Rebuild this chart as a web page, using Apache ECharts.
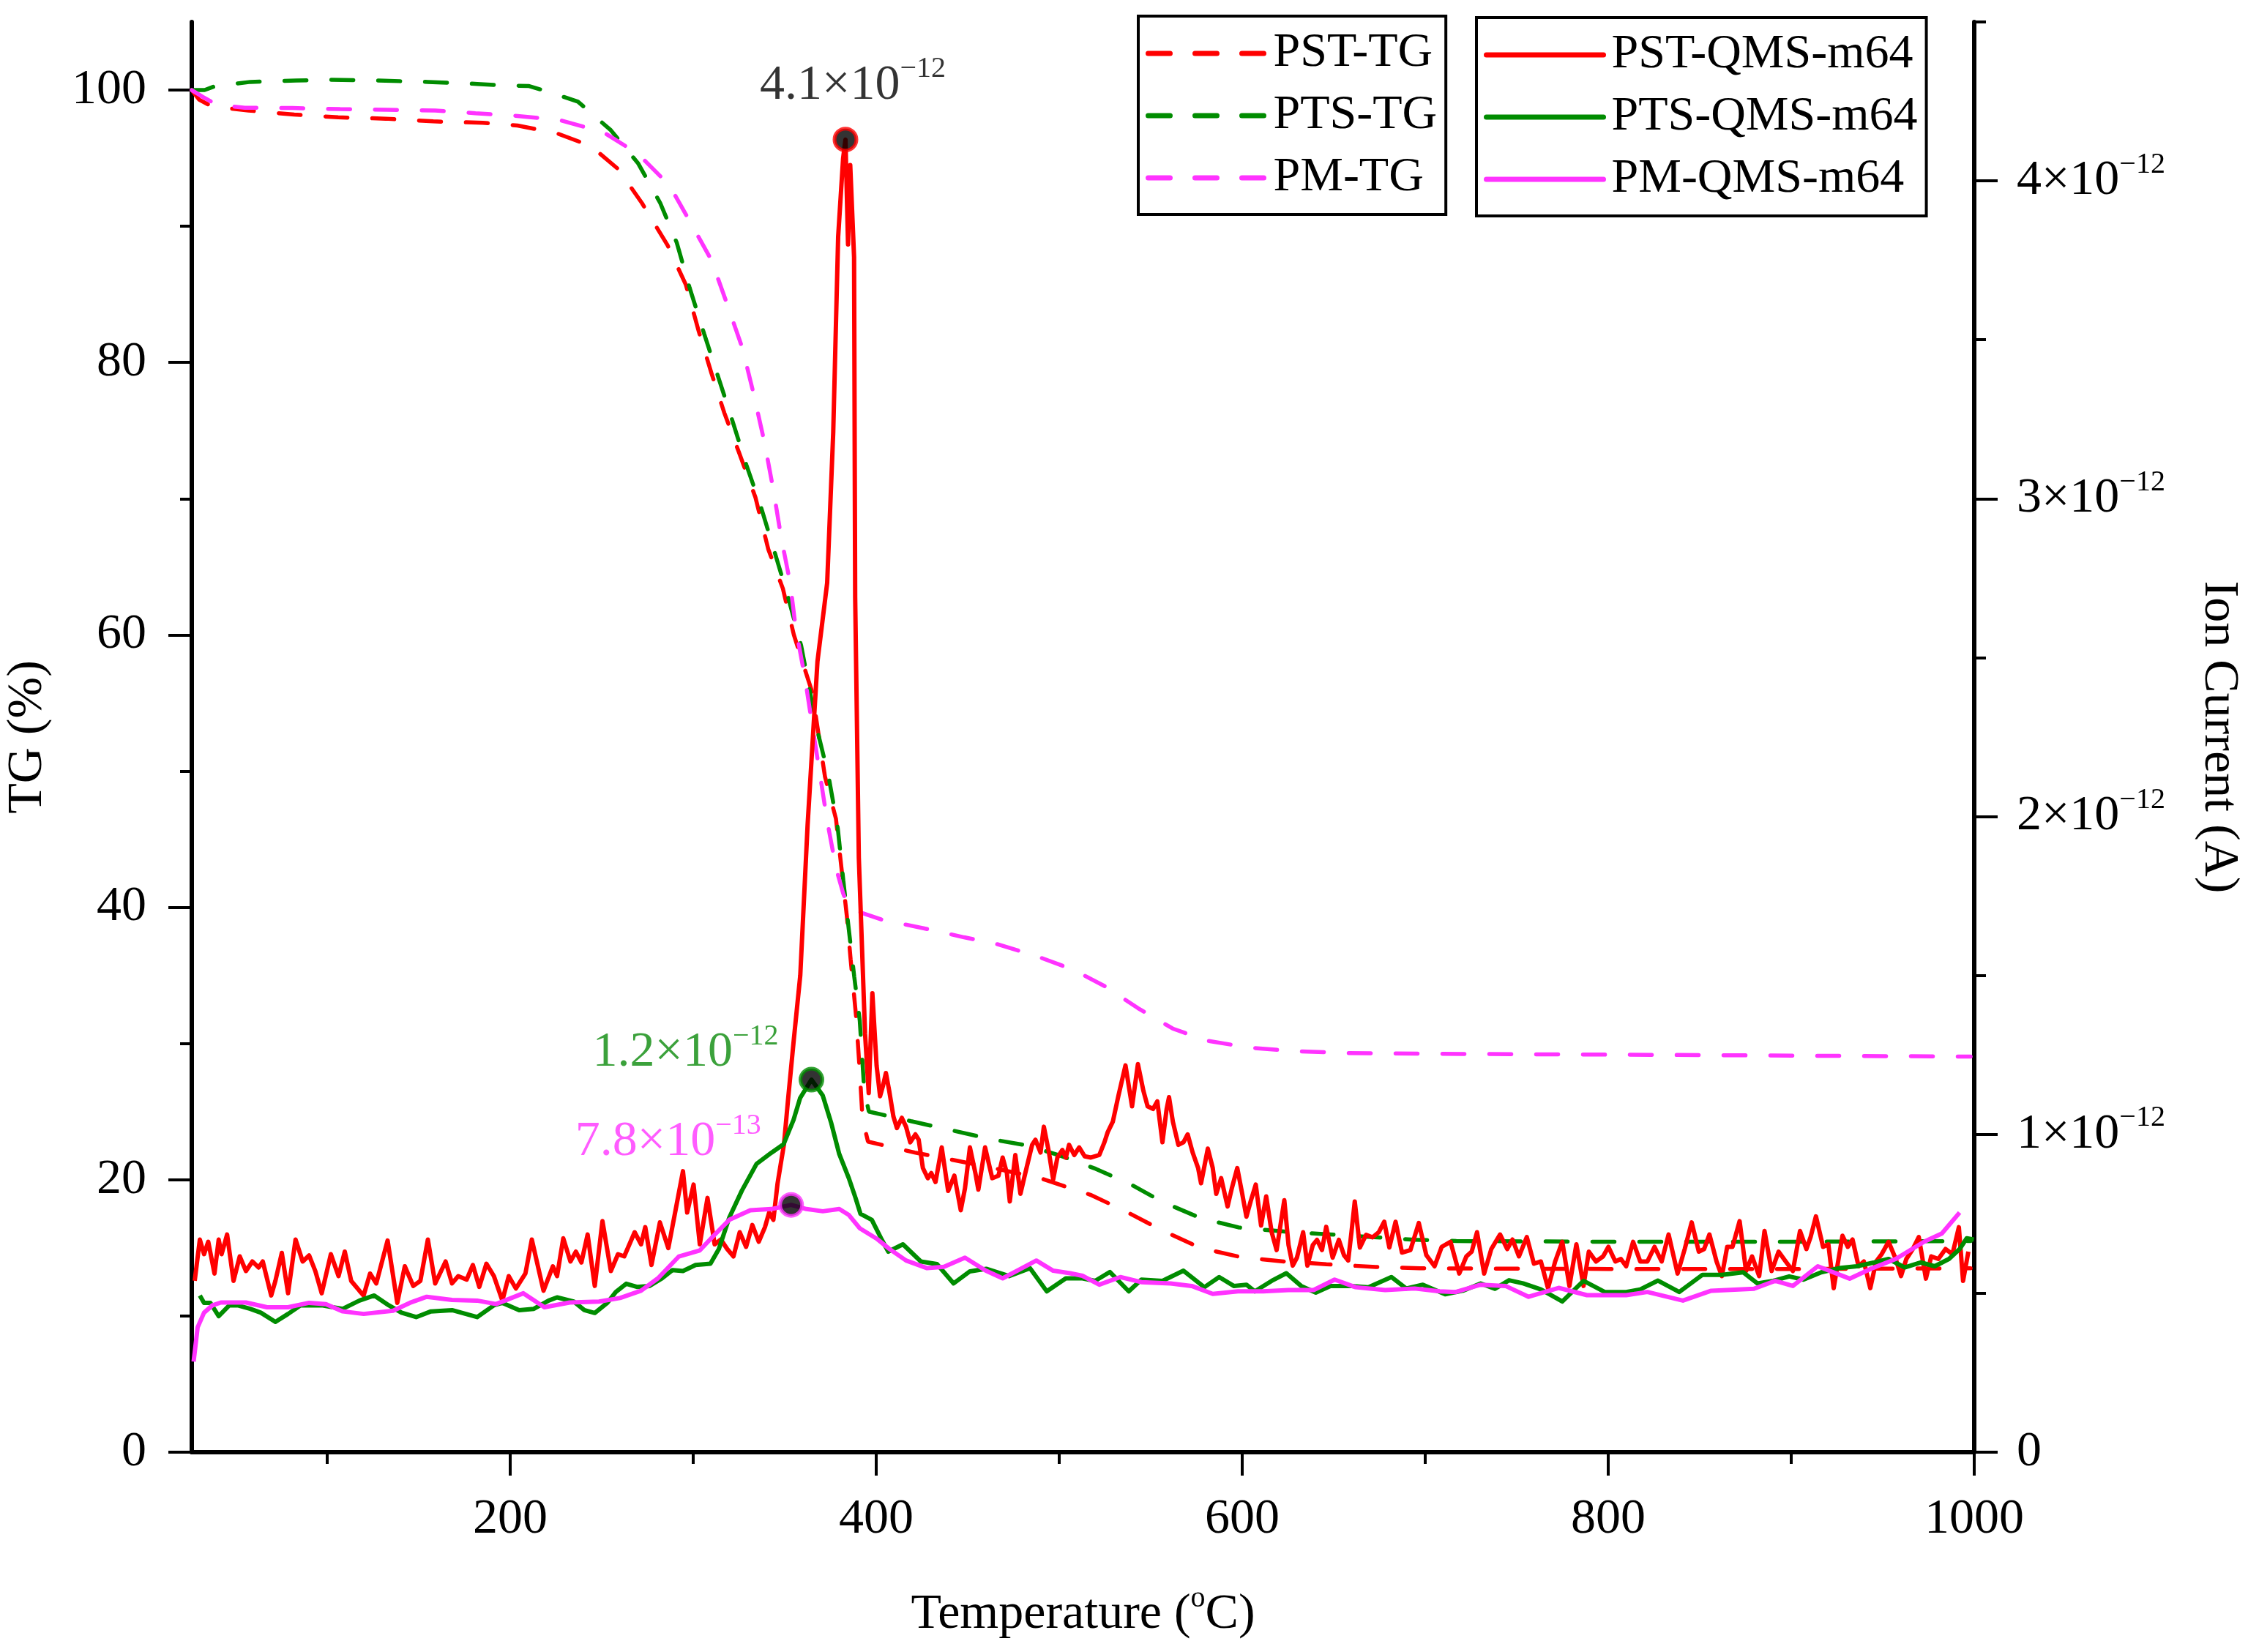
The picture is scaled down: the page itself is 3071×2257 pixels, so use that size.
<!DOCTYPE html>
<html>
<head>
<meta charset="utf-8">
<title>TG / QMS m64</title>
<script src="https://cdn.jsdelivr.net/npm/echarts@6.0.0/dist/echarts.min.js"></script>
<style>
  html, body { margin: 0; padding: 0; background: #fff; }
  #main { width: 3071px; height: 2257px; }
</style>
</head>
<body>
<div id="main"></div>
<script>
// TG curves (%), temperature in degC
const pstTgT = [26, 30, 37, 57, 82, 106, 132, 158, 185, 204, 226, 244, 259, 272, 286, 296, 303, 310, 317, 325, 334, 341, 349, 355, 365, 372, 378, 384, 386, 389, 391, 392.5, 395.5, 421, 444, 466, 490, 517, 536, 556, 577, 600, 623, 646, 673, 697, 800, 900, 998];
const pstTgV = [100, 99.3, 98.8, 98.5, 98.2, 98.0, 97.9, 97.7, 97.6, 97.4, 96.8, 95.9, 94.2, 91.7, 88.6, 85.7, 82.3, 79.2, 76.3, 73.4, 70.1, 66.3, 63.4, 60.0, 55.8, 49.6, 46.5, 39.3, 36.2, 32.0, 28.0, 24.5, 22.8, 22.0, 21.4, 20.8, 20.1, 18.9, 17.7, 16.3, 15.0, 14.3, 14.0, 13.8, 13.6, 13.5, 13.45, 13.45, 13.5];

const ptsTgT = [26, 33, 39, 58, 83, 102, 127, 155, 182, 195, 210, 219, 237, 255, 270, 282, 291, 298, 306, 314, 321, 329, 337, 344, 352, 359, 368, 374, 379, 382, 385, 388, 391, 393.5, 396, 419, 439, 462, 483, 500, 520, 540, 556, 577, 598, 623, 646, 694, 717, 800, 900, 998];
const ptsTgV = [100, 100.0, 100.3, 100.6, 100.7, 100.75, 100.7, 100.6, 100.45, 100.35, 100.3, 99.95, 99.15, 97.05, 94.6, 91.7, 88.8, 85.5, 82.1, 78.8, 75.9, 72.5, 69.4, 66.3, 62.7, 59.2, 52.9, 49.6, 45.8, 42.0, 38.4, 34.9, 31.7, 26.5, 25.0, 24.3, 23.7, 23.0, 22.5, 21.8, 20.8, 19.6, 18.4, 17.2, 16.5, 16.2, 16.0, 15.6, 15.5, 15.45, 15.45, 15.5];

const pmTgT = [26, 32, 40, 55, 81, 107, 133, 159, 181, 204, 227, 251, 270, 287, 298, 310, 319, 327, 333, 339, 344, 348, 353, 356, 361, 365, 369, 373, 378, 382, 385, 392, 403, 428, 448, 466, 488, 508, 525, 543, 562, 581, 604, 628, 658, 700, 777, 850, 920, 986, 998];
const pmTgV = [100, 99.5, 98.9, 98.7, 98.68, 98.6, 98.55, 98.5, 98.3, 98.1, 97.8, 96.9, 95.3, 93.0, 90.4, 87.5, 84.1, 81.0, 77.7, 74.1, 70.5, 67.2, 63.8, 60.5, 56.9, 53.4, 50.0, 46.5, 42.9, 41.0, 40.0, 39.6, 39.1, 38.4, 37.8, 37.3, 36.4, 35.4, 34.2, 32.6, 31.1, 30.2, 29.7, 29.45, 29.3, 29.25, 29.2, 29.15, 29.1, 29.05, 29.05];

// QMS m64 ion current, in units of 1e-12 A
const pstQmsT = [27.6, 30.4, 32.7, 35.0, 38.4, 40.7, 42.3, 45.3, 48.8, 52.2, 55.6, 59.1, 62.5, 64.8, 69.4, 71.7, 75.2, 78.6, 82.7, 86.6, 90.1, 93.5, 97.0, 102.0, 106.2, 109.6, 113.1, 117.6, 119.9, 123.4, 126.8, 133.0, 138.3, 142.4, 147.0, 150.9, 155.0, 159.0, 164.7, 168.2, 171.6, 176.2, 179.6, 183.1, 187.0, 191.1, 195.7, 199.2, 203.1, 208.3, 211.8, 218.2, 223.3, 225.6, 229.0, 232.9, 235.9, 238.9, 242.3, 246.2, 250.4, 255.0, 258.9, 262.3, 268.0, 271.5, 273.8, 277.2, 281.8, 286.4, 291.0, 294.4, 296.7, 300.2, 303.6, 307.8, 311.7, 315.1, 318.6, 322.0, 325.4, 328.9, 332.3, 335.8, 339.2, 341.5, 343.8, 346.1, 349.6,
  351.9, 355.0, 358.5, 362.5, 367.9, 373.2, 376.5, 379.2, 381.9, 383.2, 384.6, 385.8, 387.9, 388.5, 390.5, 393.9, 395.9, 397.9,
  400.2, 402.1, 403.7, 405.3, 407.1, 409.4, 411.3, 414.0, 416.3, 418.6, 421.4, 423.2, 425.5, 428.2, 430.1, 432.4, 435.8, 439.3, 442.7, 446.2, 448.5, 451.2, 454.2, 455.8, 459.5, 463.4, 466.8, 469.1, 471.4, 473.0, 476.0, 478.8, 481.8, 485.2, 487.0, 489.8, 491.6, 494.4, 496.7, 499.0, 501.7, 503.6, 505.4, 508.2, 510.9, 513.9, 517.3, 521.9, 524.7, 526.5, 529.3, 532.3, 536.2, 539.8, 543.0, 546.0, 548.3, 551.3, 553.6, 556.4, 558.7, 560.0, 562.1, 565.1, 567.9, 570.2, 572.9, 575.9, 577.5, 581.2, 583.9, 585.8, 588.5, 592.0, 594.3, 597.3, 600.0, 602.3, 604.6, 607.4, 610.3, 613.1, 616.1, 618.8, 623.0, 625.3, 627.6, 629.9, 633.3, 635.6, 638.6, 640.9, 643.6, 645.9, 649.4, 652.8, 655.6, 657.9, 659.7, 661.5, 664.3, 667.7, 671.2, 674.6, 677.6, 680.4, 683.8, 687.3, 691.9, 696.5, 700.6,
  705.1, 709.0, 713.8, 718.6, 722.5, 725.4, 728.3, 732.2, 736.1, 740.9, 744.8, 747.7, 751.2, 755.5, 759.4, 763.2, 767.1, 771.0, 774.9, 778.8, 782.6, 786.5, 789.4, 793.3, 797.2, 800.1, 803.9, 806.9, 809.8, 813.6, 817.5, 821.4, 825.3, 829.2, 833.0, 837.9, 841.8, 845.6, 849.5, 852.4, 855.3, 859.2, 862.1, 865.0, 867.9, 871.8, 875.3, 878.6, 882.5, 885.4, 889.3, 893.1, 897.0, 900.9, 904.8, 908.3, 910.6, 913.5, 917.4, 920.3, 923.2, 926.1, 928.0, 930.9, 933.5, 936.8, 939.7, 943.2, 946.4, 949.4, 953.2, 957.1, 960.0, 962.9, 966.4, 969.7, 973.6, 976.5, 980.4, 984.3, 988.1, 991.6, 993.9, 996.8];
const pstQmsI = [0.539, 0.669, 0.623, 0.662, 0.562, 0.669, 0.623, 0.685, 0.539, 0.616, 0.570, 0.600, 0.581, 0.600, 0.493, 0.539, 0.627, 0.500, 0.669, 0.600, 0.619, 0.570, 0.500, 0.623, 0.554, 0.631, 0.539, 0.508, 0.493, 0.562, 0.531, 0.666, 0.470, 0.585, 0.523, 0.539, 0.669, 0.531, 0.600, 0.531, 0.554, 0.543, 0.589, 0.520, 0.593, 0.554, 0.477, 0.554, 0.515, 0.562, 0.669, 0.508, 0.585, 0.554, 0.673, 0.600, 0.631, 0.597, 0.685, 0.523, 0.727, 0.570, 0.623, 0.616, 0.692, 0.654, 0.708, 0.589, 0.723, 0.642, 0.781, 0.884, 0.754, 0.842, 0.654, 0.800, 0.654, 0.669, 0.639, 0.616, 0.692, 0.646, 0.715, 0.662, 0.708, 0.754, 0.731, 0.846, 0.969,
  1.114, 1.30, 1.50, 1.973, 2.488, 2.735, 3.207, 3.824, 4.07, 4.13, 3.80, 4.05, 3.76, 2.69, 1.87, 1.317, 1.13, 1.444,
  1.217, 1.12, 1.153, 1.193, 1.137, 1.056, 1.02, 1.052, 1.024, 0.975, 1.0, 0.983, 0.894, 0.862, 0.878, 0.85, 0.959, 0.822, 0.870, 0.761, 0.830, 0.959, 0.878, 0.826, 0.959, 0.862, 0.870, 0.927, 0.878, 0.789, 0.935, 0.813, 0.886, 0.967, 0.983, 0.943, 1.024, 0.943, 0.858, 0.927, 0.951, 0.927, 0.967, 0.935, 0.959, 0.931, 0.927, 0.935, 0.975, 1.007, 1.04, 1.12, 1.217, 1.088, 1.221, 1.137, 1.088, 1.08, 1.104, 0.975, 1.08, 1.117, 1.04, 0.967, 0.975, 1.0, 0.943, 0.894, 0.846, 0.955, 0.894, 0.813, 0.862, 0.773, 0.830, 0.894, 0.813, 0.741, 0.789, 0.842, 0.713, 0.805, 0.692, 0.636, 0.793, 0.652, 0.587, 0.612, 0.692, 0.587, 0.652, 0.668, 0.636, 0.709, 0.612, 0.668, 0.62, 0.603, 0.692, 0.789, 0.644, 0.684, 0.676, 0.692, 0.725, 0.644, 0.725, 0.628, 0.636, 0.721, 0.62,
  0.585, 0.646, 0.662, 0.562, 0.616, 0.631, 0.692, 0.562, 0.639, 0.685, 0.639, 0.669, 0.616, 0.677, 0.593, 0.600, 0.516, 0.600, 0.662, 0.523, 0.654, 0.523, 0.631, 0.600, 0.616, 0.646, 0.600, 0.608, 0.585, 0.662, 0.600, 0.600, 0.646, 0.600, 0.685, 0.562, 0.639, 0.723, 0.631, 0.639, 0.685, 0.600, 0.554, 0.646, 0.646, 0.727, 0.570, 0.616, 0.554, 0.696, 0.570, 0.631, 0.600, 0.570, 0.696, 0.639, 0.677, 0.742, 0.646, 0.654, 0.516, 0.616, 0.681, 0.646, 0.669, 0.585, 0.600, 0.516, 0.600, 0.623, 0.662, 0.608, 0.554, 0.608, 0.639, 0.677, 0.546, 0.616, 0.608, 0.639, 0.623, 0.708, 0.539, 0.631];

const ptsQmsT = [30.4, 32.7, 36.1, 40.7, 46.5, 51.1, 57.9, 63.7, 71.7, 78.6, 85.5, 97.0, 108.5, 117.6, 125.7, 133.7, 140.6, 148.6, 156.7, 168.2, 181.9, 191.1, 195.7, 204.9, 212.9, 221.0, 225.6, 234.7, 240.5, 246.2, 253.1, 257.7, 263.4, 269.2, 276.1, 283.0, 288.7, 294.4, 301.3, 309.4, 314.0, 319.7, 326.6, 334.6, 342.7, 349.4, 354.8, 358.4, 364.6, 370.8, 375.3, 379.8, 385.1, 388.7, 391.4, 397.6, 403.0, 406.6, 414.6, 424.4, 433.2, 442.3, 451.2, 460.1, 472.6, 484.0, 493.2, 503.6, 512.7, 519.6, 527.7, 538.0, 544.9, 556.4, 567.9, 579.3, 587.4, 595.4, 602.3, 606.9, 616.1, 624.1, 632.2, 640.2, 648.2, 659.7, 668.9, 681.5, 689.6, 698.7, 710.9, 720.6, 730.3, 738.0, 745.8, 753.5, 763.2, 774.9, 786.5, 798.1, 809.8, 817.5, 827.2, 838.8, 851.5, 862.1, 873.7, 881.5, 890.2, 898.9, 906.7, 916.4, 926.1, 935.8, 945.5, 953.2, 962.0, 970.7, 978.4, 986.2, 992.0, 995.9, 999.8];
const ptsQmsI = [0.493, 0.470, 0.470, 0.428, 0.462, 0.462, 0.451, 0.439, 0.410, 0.435, 0.462, 0.462, 0.451, 0.477, 0.493, 0.462, 0.439, 0.425, 0.443, 0.447, 0.425, 0.462, 0.470, 0.447, 0.451, 0.477, 0.487, 0.474, 0.447, 0.438, 0.470, 0.504, 0.530, 0.520, 0.523, 0.547, 0.573, 0.570, 0.589, 0.593, 0.639, 0.738, 0.823, 0.907, 0.942, 0.969, 1.045, 1.114, 1.172, 1.122, 1.038, 0.938, 0.861, 0.800, 0.750, 0.731, 0.669, 0.631, 0.654, 0.600, 0.592, 0.531, 0.569, 0.577, 0.554, 0.579, 0.506, 0.547, 0.547, 0.539, 0.567, 0.506, 0.543, 0.539, 0.571, 0.519, 0.551, 0.523, 0.527, 0.506, 0.539, 0.563, 0.523, 0.502, 0.523, 0.523, 0.519, 0.551, 0.515, 0.527, 0.497, 0.508, 0.531, 0.514, 0.541, 0.531, 0.512, 0.474, 0.539, 0.504, 0.504, 0.512, 0.540, 0.504, 0.558, 0.558, 0.566, 0.531, 0.539, 0.553, 0.543, 0.566, 0.579, 0.585, 0.597, 0.608, 0.581, 0.597, 0.585, 0.608, 0.639, 0.673, 0.669];

const pmQmsT = [27.0, 29.2, 32.7, 37.3, 41.9, 55.6, 67.1, 78.6, 90.1, 99.3, 108.5, 119.9, 136.0, 145.2, 154.4, 168.2, 181.9, 192.3, 207.2, 218.7, 232.5, 248.5, 260.0, 271.5, 280.7, 292.2, 303.6, 310.5, 319.7, 331.2, 342.7, 353.5, 361.9, 370.8, 379.8, 385.1, 391.1, 400.2, 407.1, 416.3, 427.8, 437.0, 448.5, 459.9, 469.1, 478.3, 487.5, 496.7, 505.9, 512.7, 521.9, 533.4, 544.9, 560.9, 572.4, 583.9, 597.7, 611.5, 625.3, 639.0, 650.5, 662.0, 678.1, 694.2, 707.9, 716.7, 730.3, 743.9, 756.5, 772.9, 788.4, 809.8, 821.4, 840.8, 856.3, 879.6, 891.2, 900.9, 914.5, 931.9, 943.5, 957.1, 972.6, 982.3, 992.0];
const pmQmsI = [0.285, 0.393, 0.439, 0.462, 0.471, 0.471, 0.456, 0.456, 0.470, 0.466, 0.443, 0.435, 0.445, 0.470, 0.489, 0.479, 0.477, 0.466, 0.500, 0.456, 0.471, 0.474, 0.485, 0.508, 0.547, 0.616, 0.635, 0.677, 0.731, 0.761, 0.765, 0.778, 0.765, 0.758, 0.765, 0.746, 0.704, 0.672, 0.640, 0.603, 0.579, 0.583, 0.612, 0.571, 0.547, 0.575, 0.603, 0.571, 0.563, 0.555, 0.527, 0.551, 0.535, 0.531, 0.523, 0.498, 0.506, 0.506, 0.510, 0.510, 0.543, 0.519, 0.510, 0.515, 0.506, 0.504, 0.527, 0.523, 0.489, 0.517, 0.494, 0.494, 0.504, 0.477, 0.508, 0.514, 0.539, 0.523, 0.585, 0.546, 0.577, 0.608, 0.662, 0.688, 0.754];

// peak markers
const peakT = [383.2, 364.6, 353.5];
const peakI = [4.13, 1.172, 0.778];
const peakText = ['4.1×10', '1.2×10', '7.8×10'];
const peakExp = ['−12', '−12', '−13'];

// axis ticks
const xMajor = [200, 400, 600, 800, 1000];
const xMinor = [100, 300, 500, 700, 900];
const tgMajor = [0, 20, 40, 60, 80, 100];
const tgMinor = [10, 30, 50, 70, 90];
const ionMajor = [0, 1, 2, 3, 4];
const ionMinor = [0.5, 1.5, 2.5, 3.5, 4.5];

const FONT = 'Liberation Serif';
const RED = '#ff0000';
const GREEN = '#008c00';
const PINK = '#ff33ff';

function zip(xs, ys) {
  return xs.map((x, i) => [x, ys[i]]);
}

const supRich = {
  a: { fontFamily: FONT, fontSize: 68, lineHeight: 84, color: '#000' },
  s: { fontFamily: FONT, fontSize: 40, lineHeight: 40, verticalAlign: 'top', color: '#000' }
};

function minorAxis(pos, min, max, ticks) {
  return {
    type: 'value', position: pos, min: min, max: max,
    axisLine: { show: false },
    axisTick: { show: true, inside: false, length: 16, customValues: ticks, lineStyle: { color: '#000', width: 4 } },
    axisLabel: { show: false },
    splitLine: { show: false }
  };
}

function tgSeries(name, xs, ys, color) {
  return {
    name: name, type: 'line', xAxisIndex: 0, yAxisIndex: 0,
    symbol: 'none', showSymbol: false, z: 2,
    lineStyle: { color: color, width: 5.5, type: [30, 34], cap: 'round' },
    itemStyle: { color: color },
    data: zip(xs, ys)
  };
}

function qmsSeries(name, xs, ys, color) {
  return {
    name: name, type: 'line', xAxisIndex: 0, yAxisIndex: 2,
    symbol: 'none', showSymbol: false, z: 3,
    lineStyle: { color: color, width: 6, join: 'round' },
    itemStyle: { color: color },
    data: zip(xs, ys)
  };
}

const peakColors = ['#000', '#0a8a0a', PINK];
const peakBorders = [RED, GREEN, PINK];
const peakOffsets = [[10, -74], [-172, -37], [-168, -86]];

const legendBase = {
  orient: 'vertical', selectedMode: false,
  itemWidth: 160, itemHeight: 20, itemGap: 19,
  borderColor: '#000', borderWidth: 4, borderRadius: 0,
  itemStyle: { color: 'rgba(0,0,0,0)', borderWidth: 0, opacity: 0 },
  lineStyle: { width: 7, cap: 'round' },
  textStyle: { fontFamily: FONT, fontSize: 66, lineHeight: 66, color: '#000', padding: [0, 0, 0, 6] }
};

const option = {
  animation: false,
  backgroundColor: '#fff',
  grid: { left: 262, right: 374, top: 30, bottom: 273, containLabel: false, outerBoundsMode: 'none' },
  legend: [
    Object.assign({}, legendBase, {
      data: ['PST-TG', 'PTS-TG', 'PM-TG'],
      left: 1555, top: 22, padding: [18, 12, 17, 10]
    }),
    Object.assign({}, legendBase, {
      data: ['PST-QMS-m64', 'PTS-QMS-m64', 'PM-QMS-m64'],
      left: 2017, top: 24, padding: [18, 12, 17, 10]
    })
  ],
  xAxis: [
    {
      type: 'value', position: 'bottom', min: 26, max: 1000,
      name: 'Temperature ({o|o}C)', nameLocation: 'middle', nameGap: 180,
      nameTextStyle: {
        fontFamily: FONT, fontSize: 68, lineHeight: 84, color: '#000',
        rich: { o: { fontFamily: FONT, fontSize: 40, lineHeight: 40, verticalAlign: 'top', color: '#000' } }
      },
      axisLine: { show: true, lineStyle: { color: '#000', width: 6 } },
      axisTick: { show: true, inside: false, length: 32, customValues: xMajor, lineStyle: { color: '#000', width: 4 } },
      axisLabel: { customValues: xMajor, margin: 58, fontFamily: FONT, fontSize: 68, color: '#000', formatter: v => String(v) },
      splitLine: { show: false }
    },
    minorAxis('bottom', 26, 1000, xMinor)
  ],
  yAxis: [
    {
      type: 'value', position: 'left', min: 0, max: 105,
      name: 'TG (%)', nameLocation: 'middle', nameGap: 190,
      nameTextStyle: { fontFamily: FONT, fontSize: 68, color: '#000' },
      axisLine: { show: true, lineStyle: { color: '#000', width: 6 } },
      axisTick: { show: true, inside: false, length: 32, customValues: tgMajor, lineStyle: { color: '#000', width: 4 } },
      axisLabel: { customValues: tgMajor, margin: 62, fontFamily: FONT, fontSize: 68, color: '#000', formatter: v => String(v) },
      splitLine: { show: false }
    },
    minorAxis('left', 0, 105, tgMinor),
    {
      type: 'value', position: 'right', min: 0, max: 4.5,
      name: 'Ion Current (A)', nameLocation: 'middle', nameGap: 300, nameRotate: -90,
      nameTextStyle: { fontFamily: FONT, fontSize: 68, color: '#000' },
      axisLine: { show: true, lineStyle: { color: '#000', width: 6 } },
      axisTick: { show: true, inside: false, length: 32, customValues: ionMajor, lineStyle: { color: '#000', width: 4 } },
      axisLabel: {
        customValues: ionMajor, margin: 58,
        formatter: v => v === 0 ? '{a|0}' : '{a|' + v + '×10}{s|−12}',
        rich: supRich
      },
      splitLine: { show: false }
    },
    minorAxis('right', 0, 4.5, ionMinor)
  ],
  series: [
    tgSeries('PST-TG', pstTgT, pstTgV, RED),
    tgSeries('PTS-TG', ptsTgT, ptsTgV, GREEN),
    tgSeries('PM-TG', pmTgT, pmTgV, PINK),
    qmsSeries('PST-QMS-m64', pstQmsT, pstQmsI, RED),
    qmsSeries('PTS-QMS-m64', ptsQmsT, ptsQmsI, GREEN),
    qmsSeries('PM-QMS-m64', pmQmsT, pmQmsI, PINK),
    {
      name: 'peaks', type: 'scatter', xAxisIndex: 0, yAxisIndex: 2,
      z: 5, symbol: 'circle', symbolSize: 30,
      data: peakT.map((t, i) => ({
        value: [t, peakI[i]],
        itemStyle: { color: '#000', borderColor: peakBorders[i], borderWidth: 5 },
        label: {
          show: true, position: 'inside', offset: peakOffsets[i],
          formatter: '{m|' + peakText[i] + '}{s|' + peakExp[i] + '}',
          rich: {
            m: { fontFamily: FONT, fontSize: 68, lineHeight: 84, color: peakColors[i] },
            s: { fontFamily: FONT, fontSize: 40, lineHeight: 40, verticalAlign: 'top', color: peakColors[i] }
          }
        }
      }))
    }
  ]
};

const myChart = echarts.init(document.getElementById('main'));
myChart.setOption(option);
</script>
</body>
</html>
